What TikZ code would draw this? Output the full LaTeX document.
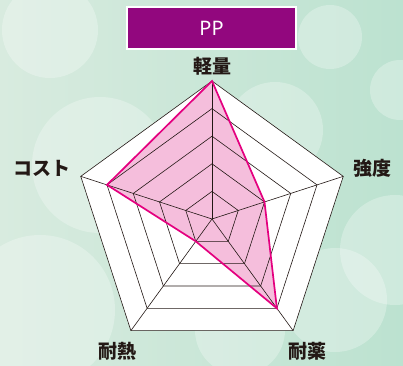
\documentclass[tikz,border=0pt]{standalone}
\usepackage{fontspec}
\newfontfamily\jp{Noto Sans CJK JP}
\newfontfamily\latn{Noto Sans}
\usetikzlibrary{calc}
\definecolor{bgL}{RGB}{216,235,223}
\definecolor{bgR}{RGB}{188,226,208}
\definecolor{gridc}{RGB}{35,24,21}
\definecolor{pinkfill}{RGB}{245,190,220}
\definecolor{pinkline}{RGB}{228,0,127}
\definecolor{titlec}{RGB}{146,7,126}
\tikzset{
  bokeh/.style={fill=white,opacity=0.28},
  gridline/.style={draw=gridc,line width=0.6pt,line join=miter},
  axislabel/.style={font=\jp\bfseries\fontsize{19}{19}\selectfont,text=gridc,inner sep=0pt},
  titlebox/.style={fill=titlec,draw=white,line width=1.2pt,minimum width=169pt,minimum height=42pt,inner sep=0pt,text=white,font=\latn\fontsize{20}{20}\selectfont},
  datapoly/.style={draw=pinkline,line width=1.7pt,line join=miter}
}
\begin{document}
\begin{tikzpicture}[x=1pt,y=-1pt]
\useasboundingbox (0,0) rectangle (403,365);
% background
\shade[left color=bgL,right color=bgR] (0,0) rectangle (403,365);
\begin{scope}
\clip (0,0) rectangle (403,365);
\fill[bokeh] (50,30) circle (48);
\fill[bokeh] (330,37) circle (32);
\fill[bokeh] (275,130) circle (48);
\fill[bokeh] (100,165) circle (68);
\fill[bokeh] (40,310) circle (75);
\fill[bokeh] (335,300) circle (52);
\fill[bokeh] (395,250) circle (55);
\fill[bokeh] (240,330) circle (45);
\fill[bokeh] (400,90) circle (30);
\end{scope}
% radar geometry
\coordinate (c) at (212,219);
\def\R{138}
\foreach \n/\a in {a/-90,b/-18,d/54,e/126,f/198}{
  \foreach \k in {1,...,5}{
    \coordinate (\n\k) at ($(c)+(\a:{\R*\k/5})$);
  }
}
% white base
\fill[white] (a5) -- (b5) -- (d5) -- (e5) -- (f5) -- cycle;
% data fill
\fill[pinkfill] (a5) -- (b2) -- (d4) -- (e1) -- (f4) -- cycle;
% grid
\foreach \k in {1,...,5}{
  \draw[gridline] (a\k) -- (b\k) -- (d\k) -- (e\k) -- (f\k) -- cycle;
}
\foreach \n in {a,b,d,e,f}{
  \draw[gridline] (c) -- (\n5);
}
% data outline
\draw[datapoly] (a5) -- (b2) -- (d4) -- (e1) -- (f4) -- cycle;
% labels
\node[axislabel] (la) at (212,66) {軽量};
\node[axislabel] (lb) at (372,168) {強度};
\node[axislabel] (ld) at (307,351) {耐薬};
\node[axislabel] (le) at (117,351) {耐熱};
\node[axislabel] (lf) at (42,168) {コスト};
% title
\node[titlebox] (title) at (211.5,28) {\raisebox{-1pt}{PP}};
\end{tikzpicture}
\end{document}
